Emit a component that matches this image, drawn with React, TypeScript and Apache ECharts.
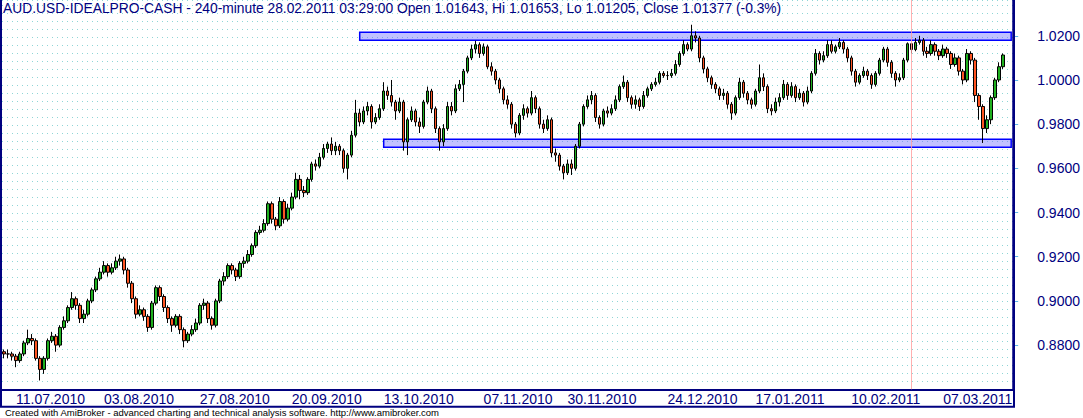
import React, { useEffect, useRef } from "react";
import * as echarts from "echarts";

const titleText =
  "AUD.USD-IDEALPRO-CASH - 240-minute 28.02.2011 03:29:00 Open 1.01643, Hi 1.01653, Lo 1.01205, Close 1.01377 (-0.3%)";
const footerText =
  "Created with AmiBroker - advanced charting and technical analysis software. http://www.amibroker.com";

const firstOpen = 0.877;

const closes = [
  0.876, 0.876, 0.875, 0.873, 0.876, 0.881, 0.883, 0.882, 0.874, 0.869,
  0.874, 0.882, 0.884, 0.880, 0.888, 0.891, 0.897, 0.901, 0.898, 0.892,
  0.894, 0.900, 0.905, 0.910, 0.913, 0.916, 0.913, 0.915, 0.918, 0.919,
  0.914, 0.908, 0.901, 0.894, 0.896, 0.893, 0.888, 0.899, 0.906, 0.902,
  0.897, 0.892, 0.889, 0.893, 0.887, 0.882, 0.885, 0.887, 0.890, 0.898,
  0.899, 0.892, 0.889, 0.900, 0.909, 0.911, 0.916, 0.914, 0.911, 0.917,
  0.918, 0.921, 0.925, 0.931, 0.932, 0.935, 0.944, 0.937, 0.934, 0.945,
  0.937, 0.942, 0.947, 0.955, 0.950, 0.949, 0.955, 0.962, 0.961, 0.965,
  0.969, 0.971, 0.968, 0.970, 0.968, 0.960, 0.966, 0.975, 0.985, 0.981,
  0.986, 0.988, 0.981, 0.983, 0.987, 0.995, 0.993, 0.990, 0.986, 0.990,
  0.972, 0.982, 0.986, 0.981, 0.979, 0.990, 0.995, 0.987, 0.978, 0.972,
  0.978, 0.988, 0.986, 0.996, 0.998, 1.004, 1.010, 1.014, 1.016, 1.012,
  1.015, 1.006, 1.004, 1.000, 0.996, 0.991, 0.989, 0.980, 0.976, 0.984,
  0.987, 0.985, 0.992, 0.987, 0.980, 0.978, 0.982, 0.967, 0.966, 0.961,
  0.958, 0.962, 0.960, 0.970, 0.980, 0.988, 0.991, 0.993, 0.983, 0.980,
  0.986, 0.985, 0.987, 0.991, 0.997, 0.999, 0.992, 0.989, 0.991, 0.988,
  0.993, 0.996, 0.998, 0.999, 1.003, 1.002, 1.002, 1.003, 1.007, 1.012,
  1.016, 1.014, 1.020, 1.019, 1.010, 1.005, 1.001, 0.998, 0.996, 0.993,
  0.994, 0.989, 0.985, 0.992, 0.999, 0.994, 0.991, 0.989, 0.995, 1.001,
  0.997, 0.987, 0.986, 0.990, 0.992, 0.998, 0.993, 0.997, 0.992, 0.994,
  0.990, 0.995, 1.003, 1.012, 1.009, 1.011, 1.016, 1.013, 1.015, 1.017,
  1.014, 1.010, 1.004, 0.999, 1.002, 1.004, 1.002, 0.998, 1.003, 1.009,
  1.014, 1.008, 1.003, 1.000, 1.001, 1.009, 1.0164, 1.01377, 1.017, 1.018,
  1.013, 1.012, 1.016, 1.013, 1.011, 1.014, 1.012, 1.007, 1.010, 1.004,
  1.000, 1.012, 1.009, 0.993, 0.988, 0.978, 0.982, 0.992, 1.000, 1.006, 1.0113,
];

const highs = [
  0.878, 0.878, 0.877, 0.876, 0.877, 0.882, 0.887, 0.885, 0.883, 0.875,
  0.875, 0.883, 0.886, 0.885, 0.889, 0.893, 0.898, 0.904, 0.902, 0.899,
  0.896, 0.901, 0.906, 0.911, 0.915, 0.918, 0.917, 0.917, 0.920, 0.921,
  0.920, 0.915, 0.909, 0.902, 0.898, 0.897, 0.894, 0.900, 0.907, 0.907,
  0.903, 0.898, 0.893, 0.894, 0.894, 0.888, 0.886, 0.889, 0.892, 0.899,
  0.901, 0.900, 0.893, 0.901, 0.910, 0.913, 0.917, 0.917, 0.915, 0.918,
  0.920, 0.923, 0.926, 0.932, 0.934, 0.937, 0.945, 0.945, 0.938, 0.947,
  0.946, 0.944, 0.949, 0.958, 0.957, 0.952, 0.956, 0.963, 0.964, 0.967,
  0.971, 0.972, 0.974, 0.972, 0.971, 0.969, 0.967, 0.977, 0.991, 0.987,
  0.988, 0.990, 0.989, 0.985, 0.989, 0.999, 0.997, 1.000, 0.991, 0.992,
  0.991, 0.983, 0.988, 0.987, 0.983, 0.991, 0.997, 0.996, 0.988, 0.979,
  0.980, 0.990, 0.990, 0.998, 1.000, 1.005, 1.011, 1.016, 1.0177, 1.017,
  1.0165, 1.016, 1.008, 1.005, 1.001, 0.997, 0.993, 0.990, 0.981, 0.985,
  0.989, 0.988, 0.995, 0.993, 0.988, 0.982, 0.984, 0.983, 0.969, 0.967,
  0.962, 0.964, 0.964, 0.971, 0.981, 0.989, 0.993, 0.995, 0.994, 0.984,
  0.987, 0.988, 0.989, 0.993, 0.998, 1.002, 1.000, 0.993, 0.993, 0.992,
  0.995, 0.997, 0.999, 1.001, 1.004, 1.004, 1.004, 1.005, 1.009, 1.013,
  1.018, 1.017, 1.025, 1.022, 1.020, 1.011, 1.006, 1.002, 0.999, 0.997,
  0.996, 0.995, 0.990, 0.993, 1.001, 1.000, 0.995, 0.992, 0.996, 1.007,
  1.003, 0.998, 0.989, 0.992, 0.994, 1.000, 0.999, 0.999, 0.998, 0.996,
  0.995, 0.997, 1.004, 1.014, 1.013, 1.013, 1.018, 1.018, 1.016, 1.019,
  1.018, 1.015, 1.011, 1.005, 1.003, 1.006, 1.005, 1.003, 1.004, 1.010,
  1.015, 1.015, 1.009, 1.004, 1.003, 1.010, 1.017, 1.01653, 1.019, 1.020,
  1.019, 1.015, 1.018, 1.017, 1.014, 1.016, 1.015, 1.013, 1.012, 1.011,
  1.005, 1.014, 1.013, 1.010, 0.994, 0.989, 0.984, 0.993, 1.001, 1.008, 1.012,
];

const lows = [
  0.874, 0.874, 0.873, 0.870, 0.872, 0.875, 0.880, 0.880, 0.873, 0.864,
  0.867, 0.873, 0.881, 0.877, 0.879, 0.887, 0.890, 0.896, 0.896, 0.890,
  0.890, 0.893, 0.899, 0.904, 0.909, 0.912, 0.911, 0.912, 0.914, 0.916,
  0.912, 0.906, 0.899, 0.892, 0.893, 0.891, 0.886, 0.887, 0.898, 0.900,
  0.895, 0.890, 0.886, 0.888, 0.885, 0.879, 0.881, 0.884, 0.886, 0.889,
  0.896, 0.890, 0.887, 0.888, 0.899, 0.907, 0.910, 0.912, 0.909, 0.910,
  0.915, 0.917, 0.920, 0.924, 0.930, 0.931, 0.934, 0.935, 0.932, 0.933,
  0.935, 0.936, 0.941, 0.946, 0.946, 0.947, 0.948, 0.954, 0.959, 0.960,
  0.964, 0.967, 0.966, 0.966, 0.966, 0.958, 0.955, 0.965, 0.974, 0.979,
  0.980, 0.984, 0.978, 0.980, 0.982, 0.986, 0.991, 0.988, 0.982, 0.985,
  0.968, 0.966, 0.981, 0.979, 0.976, 0.978, 0.989, 0.985, 0.976, 0.968,
  0.970, 0.977, 0.984, 0.985, 0.995, 0.990, 1.003, 1.009, 1.012, 1.010,
  1.011, 1.005, 1.002, 0.998, 0.994, 0.989, 0.987, 0.978, 0.974, 0.975,
  0.982, 0.983, 0.984, 0.985, 0.978, 0.976, 0.977, 0.965, 0.963, 0.959,
  0.955, 0.957, 0.957, 0.959, 0.969, 0.979, 0.987, 0.989, 0.981, 0.978,
  0.979, 0.983, 0.984, 0.986, 0.990, 0.996, 0.990, 0.987, 0.987, 0.986,
  0.987, 0.992, 0.995, 0.997, 0.998, 1.001, 1.000, 1.001, 1.002, 1.006,
  1.011, 1.013, 1.013, 1.017, 1.008, 1.003, 0.999, 0.996, 0.994, 0.991,
  0.991, 0.987, 0.982, 0.984, 0.991, 0.992, 0.989, 0.987, 0.988, 0.994,
  0.995, 0.985, 0.984, 0.985, 0.988, 0.991, 0.991, 0.992, 0.990, 0.991,
  0.988, 0.989, 0.994, 1.002, 1.007, 1.008, 1.010, 1.012, 1.012, 1.014,
  1.012, 1.008, 1.002, 0.997, 0.998, 1.001, 1.000, 0.996, 0.997, 1.002,
  1.008, 1.006, 1.001, 0.997, 0.999, 1.000, 1.008, 1.01205, 1.013, 1.016,
  1.011, 1.010, 1.011, 1.011, 1.009, 1.010, 1.010, 1.005, 1.006, 1.002,
  0.998, 0.999, 1.007, 0.990, 0.982, 0.9715, 0.976, 0.980, 0.991, 0.999, 1.005,
];

const barSlots = 253;
const tickIndex = [3, 25, 49, 72, 95, 120, 141, 166, 188, 212, 235];
const tickLabels = [
  "11.07.2010", "03.08.2010", "27.08.2010", "20.09.2010", "13.10.2010", "07.11.2010",
  "30.11.2010", "24.12.2010", "17.01.2011", "10.02.2011", "07.03.2011",
];

const resistanceZone = { fromBar: 89, toBar: 252, low: 1.018, high: 1.0216 };
const supportZone = { fromBar: 95, toBar: 252, low: 0.9695, high: 0.9732 };
const cursorBar = 227;
const lastClose = 1.0113;

const FONT = "'Liberation Sans', Arial, sans-serif";
const NAVY = "#000080";

export default function App() {
  const ref = useRef<HTMLDivElement>(null);

  useEffect(() => {
    document.body.style.margin = "0";
    if (!ref.current) return;
    const chart = echarts.init(ref.current, undefined, { renderer: "svg" });

    const categories = Array.from({ length: barSlots }, (_, i) => String(i));
    const candles = closes.map((c, i) => [
      i === 0 ? firstOpen : closes[i - 1],
      c,
      lows[i],
      highs[i],
    ]);

    chart.setOption({
      animation: false,
      backgroundColor: "#ffffff",
      title: [
        {
          text: titleText,
          left: 3,
          top: 1,
          padding: 0,
          textStyle: { fontFamily: FONT, fontSize: 13.8, fontWeight: "normal", color: NAVY },
        },
        {
          text: footerText,
          left: 5,
          top: 407,
          padding: 0,
          textStyle: { fontFamily: FONT, fontSize: 9.5, fontWeight: "normal", color: "#000000" },
        },
      ],
      grid: { left: 2, right: 69, top: 0, bottom: 28.7 },
      xAxis: {
        type: "category",
        data: categories,
        boundaryGap: true,
        axisLine: { show: true, lineStyle: { color: NAVY, width: 2 } },
        axisTick: { show: false },
        splitLine: { show: false },
        axisLabel: {
          interval: (index: number) => tickIndex.includes(index),
          formatter: (value: string) => {
            const k = tickIndex.indexOf(Number(value));
            return k >= 0 ? tickLabels[k] : "";
          },
          align: "left",
          color: NAVY,
          fontFamily: FONT,
          fontSize: 14,
          margin: 3,
        },
      },
      yAxis: [
        {
          type: "value",
          position: "right",
          min: 0.86,
          max: 1.0362,
          interval: 0.02,
          axisLine: { show: true, lineStyle: { color: NAVY, width: 1.5 } },
          axisTick: { show: true, length: 5, lineStyle: { color: "#5fb4e8" } },
          splitLine: { show: false },
          axisLabel: {
            color: NAVY,
            fontFamily: FONT,
            fontSize: 14,
            margin: 24,
            showMinLabel: false,
            showMaxLabel: false,
            formatter: (v: number) => (Math.abs(v * 50 - Math.round(v * 50)) < 1e-6 ? v.toFixed(4) : ""),
          },
        },
        {
          type: "value",
          position: "left",
          min: 0,
          max: 48.6625,
          interval: 1,
          axisLine: { show: false },
          axisTick: { show: false },
          axisLabel: { show: false },
          splitLine: { show: true, lineStyle: { color: "#8fd6d6", width: 1, type: [1, 4] } },
        },
      ],
      series: [
        {
          type: "candlestick",
          yAxisIndex: 0,
          data: candles,
          barWidth: 3,
          itemStyle: {
            color: "#1fb01f",
            color0: "#ff5522",
            borderColor: "#000000",
            borderColor0: "#000000",
            borderWidth: 1,
          },
          markArea: {
            silent: true,
            itemStyle: {
              color: "rgba(100,100,255,0.4)",
              borderColor: "#0000ff",
              borderWidth: 1.5,
            },
            data: [
              [
                { xAxis: String(resistanceZone.fromBar), yAxis: resistanceZone.high },
                { xAxis: String(resistanceZone.toBar), yAxis: resistanceZone.low },
              ],
              [
                { xAxis: String(supportZone.fromBar), yAxis: supportZone.high },
                { xAxis: String(supportZone.toBar), yAxis: supportZone.low },
              ],
            ],
          },
          markLine: {
            silent: true,
            symbol: ["none", "none"],
            data: [
              {
                xAxis: String(cursorBar),
                lineStyle: { color: "#ff9c9c", width: 1, type: "solid", opacity: 0.8 },
                label: { show: false },
              },
              {
                yAxis: lastClose,
                lineStyle: { opacity: 0 },
                label: {
                  show: true,
                  position: "end",
                  distance: 2,
                  formatter: lastClose.toFixed(4),
                  color: "#ffffff",
                  backgroundColor: "#000000",
                  padding: [1, 2, 0, 2],
                  fontFamily: FONT,
                  fontSize: 14,
                },
              },
            ],
          },
        },
      ],
      graphic: [
        {
          type: "rect",
          silent: true,
          z: 100,
          shape: { x: 1, y: -5, width: 1013, height: 411.7 },
          style: { fill: "none", stroke: NAVY, lineWidth: 2 },
        },
      ],
    });

    return () => chart.dispose();
  }, []);

  return <div ref={ref} style={{ width: 1083, height: 418 }} />;
}
